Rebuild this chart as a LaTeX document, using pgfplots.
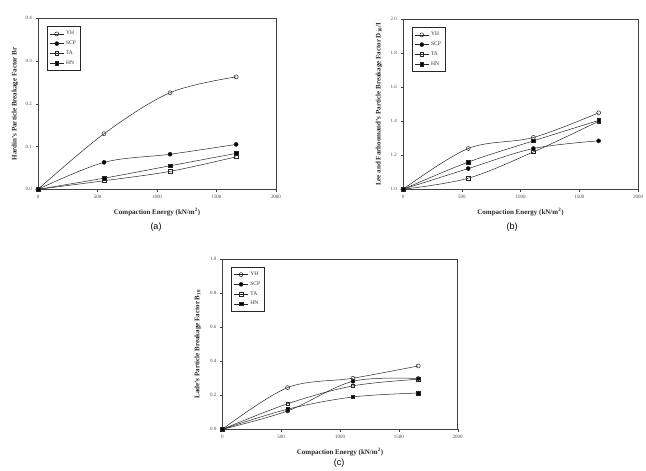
\documentclass[border=0pt]{standalone}
\usepackage{pgfplots}
\pgfplotsset{compat=1.18}
\usepackage{fontspec}
\setmainfont{Liberation Serif}
\newfontfamily\subfont{Liberation Sans}

% Shared look of the three breakage-factor panels
\pgfplotsset{
  breakage/.style={
    scale only axis,
    xmin=0, xmax=2000,
    xtick={0,500,1000,1500,2000},
    tick align=outside,
    xtick pos=bottom, ytick pos=left,
    major tick length=2.5pt,
    axis line style={black!75, line width=0.5pt},
    tick style={black!75, line width=0.4pt},
    /pgf/number format/assume math mode=true,
    ticklabel style={font=\fontsize{5}{6}\selectfont, text=black!70},
    yticklabel style={/pgf/number format/fixed, /pgf/number format/fixed zerofill, /pgf/number format/precision=1},
    xticklabel style={/pgf/number format/1000 sep={}},
    label style={font=\fontsize{7}{8}\selectfont\bfseries, text=black!85},
    xlabel={Compaction Energy (kN/m\textsuperscript{2})},
    xlabel style={at={(axis description cs:0.5,0)}, anchor=center, yshift=-22.7pt},
    clip=false,
    legend cell align=left,
    legend style={at={(0,1)}, anchor=north west, xshift=8.7pt, yshift=-7.7pt,
      font=\fontsize{5.5}{6.5}\selectfont, text=black!80, draw=black!85, line width=0.7pt,
      inner xsep=2.5pt, inner ysep=3pt, row sep=0.6pt},
    legend image code/.code={
      \draw[mark repeat=2, mark phase=2] plot coordinates {(0pt,0pt) (7pt,0pt) (14pt,0pt)};
    },
    every axis plot/.append style={line width=0.5pt, black!85, smooth, tension=0.55, mark size=2pt},
  },
  yh/.style={mark=o, mark options={fill=white, line width=0.5pt}},
  scp/.style={mark=*, mark options={fill=black}},
  ta/.style={mark=square, mark size=1.8pt, mark options={fill=white, line width=0.5pt}},
  hn/.style={mark=square*, mark size=1.8pt, mark options={fill=black}},
}

\begin{document}
\begin{tikzpicture}
\useasboundingbox (0pt,0pt) rectangle (646pt,471pt);

% (a) Hardin
\begin{axis}[breakage, at={(38pt,281.7pt)}, anchor=south west,
  width=238pt, height=171pt,
  ymin=0, ymax=0.4, ytick={0,0.1,0.2,0.3,0.4},
  ylabel={Hardin's Particle Breakage Factor Br},
  ylabel style={at={(axis description cs:0,0.5)}, anchor=center, yshift=23pt}]
\addplot[yh] coordinates {(0,0) (555,0.130) (1110,0.226) (1665,0.263)};
\addplot[scp] coordinates {(0,0) (555,0.063) (1110,0.082) (1665,0.105)};
\addplot[ta] coordinates {(0,0) (555,0.020) (1110,0.042) (1665,0.076)};
\addplot[hn] coordinates {(0,0) (555,0.026) (1110,0.055) (1665,0.084)};
\legend{YH,SCP,TA,HN}
\end{axis}

% (b) Lee and Farhoomand
\begin{axis}[breakage, at={(403pt,281.7pt)}, anchor=south west,
  width=235pt, height=170pt,
  ymin=1.0, ymax=2.0, ytick={1.0,1.2,1.4,1.6,1.8,2.0},
  ylabel={Lee and Farhoomand's Particle Breakage Factor D\textsubscript{10}/I},
  ylabel style={at={(axis description cs:0,0.5)}, anchor=center, yshift=24pt}]
\addplot[yh] coordinates {(0,1.0) (555,1.240) (1110,1.305) (1665,1.450)};
\addplot[scp] coordinates {(0,1.0) (555,1.122) (1110,1.240) (1665,1.285)};
\addplot[ta] coordinates {(0,1.0) (555,1.065) (1110,1.220) (1665,1.400)};
\addplot[hn] coordinates {(0,1.0) (555,1.160) (1110,1.285) (1665,1.405)};
\legend{YH,SCP,TA,HN}
\end{axis}

% (c) Lade
\begin{axis}[breakage, at={(222.3pt,41.7pt)}, anchor=south west,
  width=235.4pt, height=170.3pt,
  ymin=0, ymax=1.0, ytick={0,0.2,0.4,0.6,0.8,1.0},
  ylabel={Lade's Particle Breakage Factor B\textsubscript{10}},
  ylabel style={at={(axis description cs:0,0.5)}, anchor=center, yshift=24.6pt}]
\addplot[yh] coordinates {(0,0) (555,0.245) (1110,0.300) (1665,0.372)};
\addplot[scp] coordinates {(0,0) (555,0.108) (1110,0.282) (1665,0.298)};
\addplot[ta] coordinates {(0,0) (555,0.150) (1110,0.255) (1665,0.294)};
\addplot[hn] coordinates {(0,0) (555,0.118) (1110,0.190) (1665,0.213)};
\legend{YH,SCP,TA,HN}
\end{axis}

\node[font=\subfont\fontsize{9}{10}\selectfont] at (156pt,244pt) {(a)};
\node[font=\subfont\fontsize{9}{10}\selectfont] at (512pt,244pt) {(b)};
\node[font=\subfont\fontsize{9}{10}\selectfont] at (339pt,8pt) {(c)};
\end{tikzpicture}
\end{document}
